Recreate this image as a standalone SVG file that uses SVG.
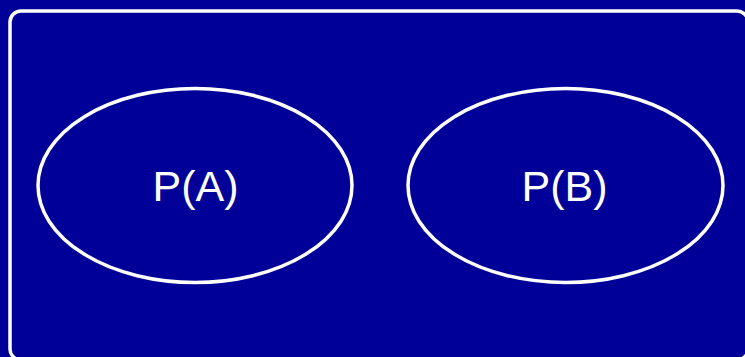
<svg xmlns="http://www.w3.org/2000/svg" width="745" height="357" viewBox="0 0 745 357">
<style>
.frame{fill:none;stroke:#ffffff;stroke-width:3.5}
.set{fill:none;stroke:#ffffff;stroke-width:3.5}
.lbl{fill:#ffffff;font-family:"Liberation Sans",Arial,sans-serif;font-size:43px;text-anchor:middle}
</style>
<rect x="0" y="0" width="745" height="357" fill="#000099"/>
<rect class="frame" x="10" y="11" width="738" height="349" rx="11" ry="11"/>
<g id="A">
<ellipse class="set" cx="195" cy="185.5" rx="157" ry="97"/>
<text class="lbl" x="195.5" y="201">P(A)</text>
</g>
<g id="B">
<ellipse class="set" cx="565.5" cy="185.5" rx="157.5" ry="97"/>
<text class="lbl" x="564.5" y="201">P(B)</text>
</g>
<g id="connectors"></g>
</svg>
